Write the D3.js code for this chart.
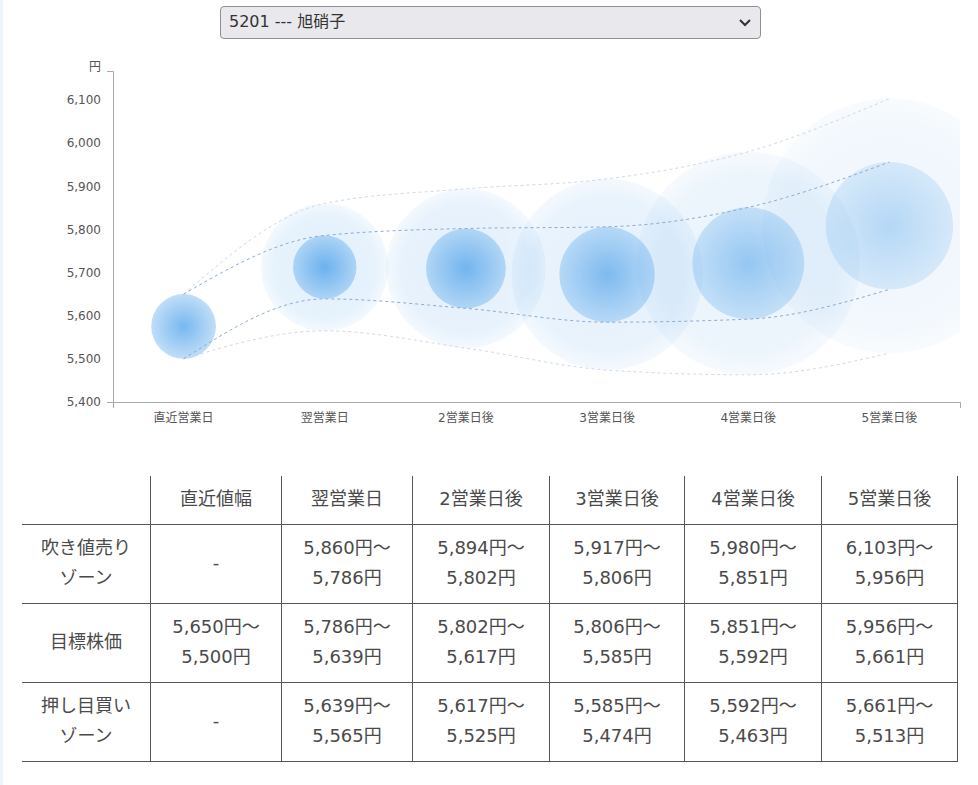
<!DOCTYPE html>
<html lang="ja">
<head>
<meta charset="utf-8">
<script src="https://cdn.jsdelivr.net/npm/d3@7"></script>
<style>
  body { margin: 0; background: #fff; font-family: "DejaVu Sans", "Noto Sans CJK JP", sans-serif; }
  #page { position: relative; width: 978px; height: 785px; border-left: 3px solid #eef5fc; box-sizing: border-box; }
  #picker { position: absolute; left: 217px; top: 6px; width: 541px; height: 33px; box-sizing: border-box;
    background: #e9e8ed; border: 1px solid #8f8f95; border-radius: 4px; color: #333; font-size: 16px;
    line-height: 29px; padding-left: 8px; }
  #picker svg { position: absolute; right: 8px; top: 10px; }
  #chart { position: absolute; left: -3px; top: 0; }
  #zones { position: absolute; left: 19px; top: 476px; border-collapse: collapse; color: #4a4a4a; font-size: 18px; }
  #zones td, #zones th { border-right: 1px solid #555; border-bottom: 1px solid #555; text-align: center;
    font-weight: normal; padding: 0; line-height: 30px; }
  #zones thead th { height: 45px; padding-bottom: 3px; }
  #zones tbody td { height: 75px; padding-bottom: 3px; }
</style>
</head>
<body>
<div id="page">
  <div id="picker">5201 --- 旭硝子
    <svg width="14" height="12"><path d="M2,3 L7,8 L12,3" fill="none" stroke="#333" stroke-width="2"/></svg>
  </div>
  <svg id="chart" width="978" height="445"></svg>
  <table id="zones"></table>
</div>
<script>
const days = ["直近営業日", "翌営業日", "2営業日後", "3営業日後", "4営業日後", "5営業日後"];
const tableHeads = ["直近値幅", "翌営業日", "2営業日後", "3営業日後", "4営業日後", "5営業日後"];
const rowNames = ["吹き値売り<br>ゾーン", "目標株価", "押し目買い<br>ゾーン"];
const sellHigh = [null, 5860, 5894, 5917, 5980, 6103];
const targetHigh = [5650, 5786, 5802, 5806, 5851, 5956];
const targetLow = [5500, 5639, 5617, 5585, 5592, 5661];
const buyLow = [null, 5565, 5525, 5474, 5463, 5513];
const yTicks = [5400, 5500, 5600, 5700, 5800, 5900, 6000, 6100];
const yDomain = [5400, 6167];

const svg = d3.select("#chart");
const x = d3.scaleBand().domain(days).range([113, 960]);
const y = d3.scaleLinear().domain(yDomain).range([402, 71]);
const cx = d => x(d) + x.bandwidth() / 2;
const fade = [1, 1, 0.95, 0.88, 0.72, 0.5];

const defs = svg.append("defs");
const inner = defs.append("radialGradient").attr("id", "inner");
inner.append("stop").attr("offset", "0%").attr("stop-color", "#1e88e5").attr("stop-opacity", 0.6);
inner.append("stop").attr("offset", "100%").attr("stop-color", "#1e88e5").attr("stop-opacity", 0.28);
const outer = defs.append("radialGradient").attr("id", "outer");
outer.append("stop").attr("offset", "0%").attr("stop-color", "#1e88e5").attr("stop-opacity", 0.13);
outer.append("stop").attr("offset", "80%").attr("stop-color", "#1e88e5").attr("stop-opacity", 0.11);
outer.append("stop").attr("offset", "100%").attr("stop-color", "#1e88e5").attr("stop-opacity", 0.05);
defs.append("clipPath").attr("id", "plot").append("rect")
  .attr("x", 113).attr("y", 60).attr("width", 847).attr("height", 342);

const rows = days.map((d, i) => ({
  day: d, i,
  hi: targetHigh[i], lo: targetLow[i],
  sell: sellHigh[i] ?? targetHigh[i], buy: buyLow[i] ?? targetLow[i]
}));

const plot = svg.append("g").attr("clip-path", "url(#plot)");
const bubble = plot.selectAll("g.day").data(rows).enter().append("g")
  .attr("class", "day")
  .attr("opacity", d => fade[d.i]);

bubble.filter(d => sellHigh[d.i] != null).append("circle")
  .attr("cx", d => cx(d.day))
  .attr("cy", d => y((d.sell + d.buy) / 2))
  .attr("r", d => (y(d.buy) - y(d.sell)) / 2)
  .attr("fill", "url(#outer)");

bubble.append("circle")
  .attr("cx", d => cx(d.day))
  .attr("cy", d => y((d.hi + d.lo) / 2))
  .attr("r", d => (y(d.lo) - y(d.hi)) / 2)
  .attr("fill", "url(#inner)");

const line = key => d3.line().curve(d3.curveMonotoneX).x(d => cx(d.day)).y(d => y(d[key]));
[["sell", "#cddaea"], ["buy", "#cddaea"], ["hi", "#8dabcf"], ["lo", "#8dabcf"]].forEach(([key, col]) => {
  plot.append("path").datum(rows).attr("d", line(key))
    .attr("fill", "none").attr("stroke", col).attr("stroke-width", 1)
    .attr("stroke-dasharray", "3,3");
});

const yAxis = svg.append("g").attr("transform", "translate(113,0)")
  .call(d3.axisLeft(y).tickValues(yTicks).tickFormat(d3.format(",")).tickSizeInner(0).tickSizeOuter(6).tickPadding(12));
const xAxis = svg.append("g").attr("transform", "translate(0,402)")
  .call(d3.axisBottom(x).tickSizeInner(0).tickSizeOuter(6).tickPadding(11));
[yAxis, xAxis].forEach(g => {
  g.select(".domain").attr("stroke", "#aaa");
  g.selectAll("text").attr("fill", "#555").attr("font-size", 12)
    .attr("font-family", "'DejaVu Sans', 'Noto Sans CJK JP', sans-serif");
});
svg.append("text").attr("x", 101).attr("y", 71).attr("text-anchor", "end")
  .attr("font-family", "'Noto Sans CJK JP', sans-serif")
  .attr("font-size", 12).attr("fill", "#555").text("円");

// table
const fmt = d3.format(",");
const zone = (a, b) => a == null || b == null ? "-" : `${fmt(a)}円～<br>${fmt(b)}円`;
const table = d3.select("#zones");
const colW = [129, 131, 131, 137, 135, 137, 136];
table.append("thead").append("tr").selectAll("th").data([""].concat(tableHeads)).enter()
  .append("th").style("width", (d, i) => (colW[i] - 1) + "px").text(d => d);
const body = [
  [rowNames[0]].concat(days.map((d, i) => zone(sellHigh[i], targetHigh[i]))),
  [rowNames[1]].concat(days.map((d, i) => zone(targetHigh[i], targetLow[i]))),
  [rowNames[2]].concat(days.map((d, i) => zone(targetLow[i], buyLow[i])))
];
table.append("tbody").selectAll("tr").data(body).enter().append("tr")
  .selectAll("td").data(r => r).enter().append("td").html(d => d);
</script>
</body>
</html>
